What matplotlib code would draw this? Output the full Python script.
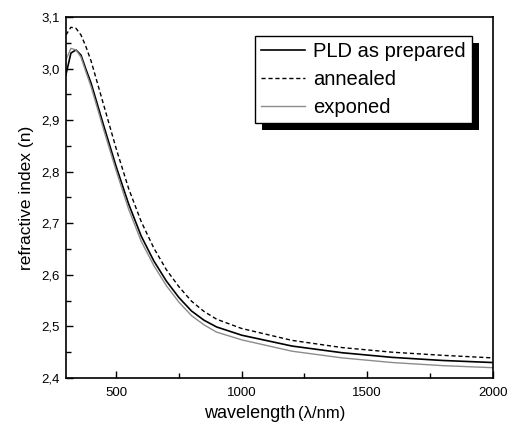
import matplotlib
matplotlib.use('Agg')
import matplotlib.pyplot as plt
from matplotlib.ticker import MultipleLocator, FuncFormatter
from matplotlib.patches import Rectangle

plt.rcParams['font.family'] = ['Liberation Sans', 'DejaVu Sans']

# wavelength (nm)
wl = [300, 320, 340, 360, 380, 400, 450, 500, 550, 600, 650, 700, 750, 800,
      850, 900, 1000, 1200, 1400, 1600, 1800, 2000]
# refractive index
n_prepared = [2.988, 3.030, 3.036, 3.026, 2.998, 2.972, 2.890, 2.810, 2.737, 2.675,
              2.627, 2.588, 2.556, 2.530, 2.512, 2.499, 2.483, 2.462, 2.449, 2.440,
              2.434, 2.430]
n_annealed = [3.065, 3.080, 3.078, 3.065, 3.042, 3.015, 2.930, 2.845, 2.767, 2.703,
              2.652, 2.610, 2.577, 2.549, 2.529, 2.514, 2.496, 2.473, 2.459, 2.450,
              2.444, 2.439]
n_exponed = [3.017, 3.039, 3.036, 3.022, 2.993, 2.965, 2.882, 2.802, 2.727, 2.665,
             2.618, 2.579, 2.547, 2.521, 2.503, 2.489, 2.474, 2.452, 2.439, 2.430,
             2.424, 2.420]

fig = plt.figure(figsize=(5.07, 4.34), dpi=100)
ax = fig.add_axes([0.130, 0.129, 0.842, 0.832])

ax.plot(wl, n_prepared, color='black', lw=1.2, label='PLD as prepared')
ax.plot(wl, n_annealed, color='black', lw=1.0, ls=(0, (3, 2)), label='annealed')
ax.plot(wl, n_exponed, color='#8c8c8c', lw=1.0, label='exponed')

ax.set_xlim(300, 2000)
ax.set_ylim(2.4, 3.1)
ax.xaxis.set_major_locator(MultipleLocator(500))
ax.xaxis.set_minor_locator(MultipleLocator(250))
ax.yaxis.set_major_locator(MultipleLocator(0.1))
ax.yaxis.set_minor_locator(MultipleLocator(0.05))
ax.yaxis.set_major_formatter(FuncFormatter(lambda v, p: ('%.1f' % v).replace('.', ',')))
ax.tick_params(which='both', direction='in', top=False, right=False, labelsize=9.5, width=1)
ax.tick_params(which='major', length=5)
ax.tick_params(which='minor', length=3.5)
ax.tick_params(axis='x', pad=6.5)
ax.tick_params(axis='y', pad=4.5)
for s in ax.spines.values():
    s.set_linewidth(1.2)

ax.set_ylabel('refractive index (n)', fontsize=12.5, labelpad=5)
fig.text(0.582, 0.037, 'wavelength', fontsize=13, ha='right', va='baseline')
fig.text(0.588, 0.037, '(\u03bb/nm)', fontsize=12, ha='left', va='baseline')

leg = ax.legend(loc='upper right', bbox_to_anchor=(0.951, 0.947), fontsize=14.5,
                frameon=True, fancybox=False, edgecolor='black', framealpha=1,
                handlelength=2.2, handletextpad=0.4, borderpad=0.3,
                labelspacing=0.44, borderaxespad=0)
leg.get_frame().set_linewidth(1.0)

# black drop shadow behind the legend box
fig.canvas.draw()
bb = leg.get_window_extent()
shadow = Rectangle((bb.x0 + 7, bb.y0 - 7), bb.width, bb.height, transform=None,
                   facecolor='black', edgecolor='none', zorder=4)
ax.add_artist(shadow)
leg.set_zorder(5)

fig.savefig('out.png', dpi=100)
